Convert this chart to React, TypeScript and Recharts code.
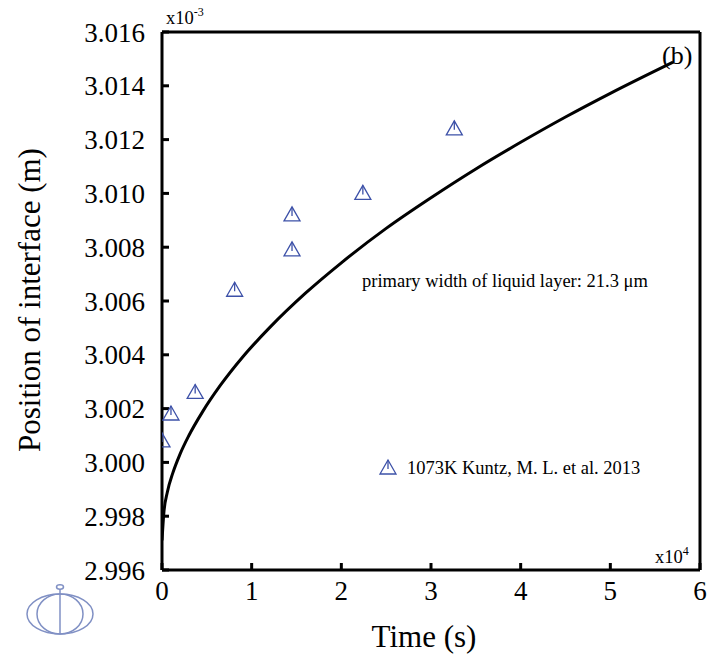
import React from "react";
import {
  ComposedChart, Line, Scatter, XAxis, YAxis, ReferenceLine,
} from "recharts";

// model curve, time in 1e4 s, position in 1e-3 m
const curveTime = [0, 0.02, 0.06, 0.12, 0.2, 0.3, 0.45, 0.65, 0.9, 1.2, 1.6, 2.0, 2.5, 3.0, 3.5, 4.0, 4.5, 5.0, 5.7];
const curvePos = [2.9971, 2.9981, 2.9989, 2.9996, 3.0003, 3.0010, 3.00187, 3.00286, 3.00392, 3.00501, 3.00629, 3.00742, 3.0087, 3.00984, 3.01091, 3.0119, 3.01284, 3.01372, 3.01488];

// 1073K Kuntz, M. L. et al. 2013
const expTime = [0.0, 0.1, 0.37, 0.81, 1.45, 1.45, 2.24, 3.26];
const expPos = [3.0008, 3.0018, 3.0026, 3.0064, 3.0079, 3.0092, 3.0100, 3.0124];

const xTicks = [0, 1, 2, 3, 4, 5, 6];
const yTicks = [2.996, 2.998, 3.0, 3.002, 3.004, 3.006, 3.008, 3.01, 3.012, 3.014, 3.016];

const curve = curveTime.map((t, i) => ({ t, y: curvePos[i] }));
const exp = expTime.map((t, i) => ({ t, y: expPos[i] }));

const FONT = "Liberation Serif";
const BLUE = "#3d51a8";

function Tri(props: any) {
  const { cx, cy } = props;
  if (cx == null || cy == null) return null;
  return (
    <g fill="none" stroke={BLUE} strokeWidth={1.3}>
      <path d={`M${cx},${cy - 8} L${cx - 8},${cy + 6} L${cx + 8},${cy + 6} Z`} />
      <line x1={cx} y1={cy - 8} x2={cx} y2={cy + 1} />
    </g>
  );
}

const txt = { fontFamily: FONT, fill: "#000" };

export default function App() {
  return (
    <div style={{ position: "absolute", left: 0, top: 0, width: 709, height: 655, background: "#fff", fontFamily: FONT }}>
      <ComposedChart width={709} height={655} margin={{ top: 32, right: 9, bottom: 25, left: 0 }} style={{ fontFamily: FONT }}>
        <XAxis
          dataKey="t"
          type="number"
          domain={[0, 6]}
          ticks={xTicks}
          allowDataOverflow
          height={60}
          tickSize={-7}
          tickMargin={18}
          axisLine={{ stroke: "#000", strokeWidth: 3 }}
          tickLine={{ stroke: "#000", strokeWidth: 3 }}
          tick={{ fontSize: 27, fill: "#000", fontFamily: FONT }}
        />
        <YAxis
          dataKey="y"
          type="number"
          domain={[2.996, 3.016]}
          ticks={yTicks}
          allowDataOverflow
          width={162}
          tickSize={-7}
          tickMargin={24}
          tickFormatter={(v: number) => v.toFixed(3)}
          axisLine={{ stroke: "#000", strokeWidth: 3 }}
          tickLine={{ stroke: "#000", strokeWidth: 3 }}
          tick={{ fontSize: 27, fill: "#000", fontFamily: FONT }}
        />
        <ReferenceLine y={3.016} stroke="#000" strokeWidth={3} />
        <ReferenceLine x={6} stroke="#000" strokeWidth={3} />
        <Line
          data={curve}
          dataKey="y"
          type="monotone"
          stroke="#000"
          strokeWidth={3}
          dot={false}
          activeDot={false}
          isAnimationActive={false}
        />
        <Scatter data={exp} dataKey="y" shape={<Tri />} isAnimationActive={false} />
      </ComposedChart>

      <svg width={709} height={655} style={{ position: "absolute", left: 0, top: 0, pointerEvents: "none" }}>
        <text x={166} y={24} fontSize={18.5} style={txt}>x10<tspan dy={-8} fontSize={12}>-3</tspan></text>
        <text x={655} y={563} fontSize={18.5} style={txt}>x10<tspan dy={-8} fontSize={12}>4</tspan></text>
        <text x={662} y={64} fontSize={26} style={txt}>(b)</text>
        <text x={362} y={287} fontSize={18.5} style={txt}>primary width of liquid layer: 21.3 μm</text>
        <Tri cx={388} cy={468} />
        <text x={407} y={474} fontSize={18.5} style={txt}>1073K Kuntz, M. L. et al. 2013</text>
        <text x={424} y={647} fontSize={31} textAnchor="middle" style={txt}>Time (s)</text>
        <text x={40} y={300} fontSize={31} textAnchor="middle" transform="rotate(-90 40 300)" style={txt}>Position of interface (m)</text>
        <g fill="none" stroke="#8090c4" strokeWidth={1.5}>
          <ellipse cx={60} cy={614} rx={33} ry={20} />
          <ellipse cx={60} cy={614} rx={23} ry={20} />
          <line x1={60} y1={589} x2={60} y2={634} />
          <ellipse cx={60} cy={587} rx={3.5} ry={2.2} />
        </g>
      </svg>
    </div>
  );
}
